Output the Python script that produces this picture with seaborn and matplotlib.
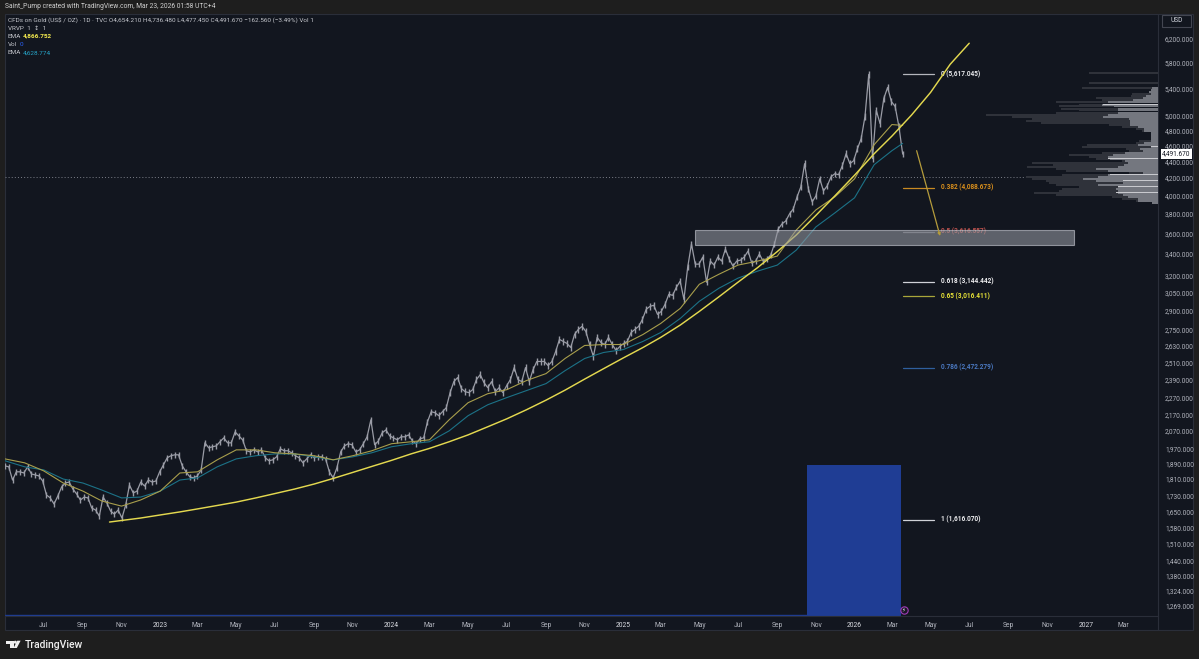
import pandas as pd
import matplotlib
matplotlib.use('Agg')
import matplotlib.pyplot as plt
import matplotlib.dates as mdates
from matplotlib.patches import Rectangle, Circle, Polygon
from matplotlib.ticker import NullLocator
import seaborn as sns

# ---values---
price = [1878, 1873, 1805, 1847, 1847, 1841, 1873, 1836, 1831, 1826, 1800, 1731, 1717, 1688, 1726, 1770,
    1790, 1795, 1760, 1736, 1707, 1721, 1717, 1669, 1660, 1632, 1721, 1693, 1655, 1641, 1660, 1623, 1683,
    1780, 1741, 1750, 1795, 1775, 1805, 1795, 1800, 1847, 1883, 1921, 1932, 1937, 1937, 1878, 1847, 1821,
    1816, 1826, 1857, 2003, 1975, 1981, 1986, 2009, 2031, 2003, 2003, 2065, 2042, 2020, 1959, 1953, 1964,
    1953, 1964, 1921, 1905, 1910, 1926, 1970, 1959, 1959, 1948, 1932, 1921, 1894, 1915, 1937, 1921, 1926,
    1926, 1915, 1847, 1816, 1868, 1953, 1986, 1998, 1992, 1953, 1964, 1998, 2037, 2136, 1992, 2014, 2060,
    2077, 2042, 2031, 2020, 2037, 2037, 2048, 2014, 1998, 2026, 2031, 2124, 2185, 2179, 2161, 2185, 2210,
    2305, 2377, 2404, 2331, 2311, 2305, 2324, 2391, 2424, 2370, 2337, 2377, 2311, 2337, 2305, 2350, 2391,
    2472, 2391, 2377, 2472, 2377, 2458, 2515, 2515, 2515, 2486, 2515, 2586, 2675, 2660, 2645, 2615, 2712,
    2751, 2774, 2735, 2637, 2550, 2690, 2652, 2637, 2690, 2637, 2593, 2622, 2645, 2660, 2727, 2751, 2774,
    2829, 2910, 2934, 2943, 2869, 2893, 2951, 3035, 3026, 3095, 3148, 2992, 3274, 3493, 3302, 3302, 3368,
    3139, 3330, 3293, 3368, 3330, 3444, 3349, 3284, 3330, 3339, 3368, 3425, 3311, 3330, 3396, 3330, 3349,
    3387, 3493, 3643, 3695, 3726, 3800, 3854, 3986, 4099, 4373, 4076, 3930, 3997, 4192, 4053, 4111, 4216,
    4252, 4240, 4349, 4497, 4373, 4410, 4561, 4691, 4990, 5614, 4435, 5075, 4893, 5249, 5413, 5204, 5132,
    4851, 4491.67]

# monthly readings of the two moving averages, May 2022 to Mar 2026, then the last bar
ema_fast = [1915, 1894, 1852, 1790, 1750, 1702, 1678, 1707, 1750, 1841, 1847, 1910, 1964, 1964, 1948, 1942,
    1932, 1910, 1932, 1959, 1998, 2009, 2020, 2136, 2241, 2298, 2324, 2384, 2431, 2536, 2630, 2637, 2637,
    2712, 2797, 2918, 3121, 3210, 3293, 3330, 3377, 3632, 3843, 3986, 4192, 4612, 4879, 4866.752]
ema_slow = [1905, 1873, 1857, 1810, 1790, 1755, 1717, 1721, 1750, 1805, 1816, 1873, 1915, 1932, 1942, 1942,
    1926, 1910, 1926, 1948, 1981, 1998, 2009, 2071, 2161, 2228, 2273, 2318, 2364, 2451, 2536, 2579, 2600,
    2660, 2727, 2837, 2976, 3087, 3175, 3238, 3293, 3434, 3664, 3811, 3975, 4361, 4535, 4628.774]

# hand drawn parabolic curve, Oct 13 2022 then monthly from Nov 2022 to Jul 2026
curve = [1605, 1612, 1623, 1637, 1651, 1665, 1681, 1697, 1717, 1738, 1760, 1785, 1813, 1844, 1875, 1907,
    1942, 1972, 2009, 2048, 2095, 2142, 2197, 2257, 2321, 2394, 2465, 2540, 2615, 2690, 2785, 2893, 3014,
    3139, 3270, 3420, 3582, 3784, 3997, 4234, 4497, 4724, 5011, 5338, 5775, 6125]

fib_levels = ['0', '0.382', '0.5', '0.618', '0.65', '0.786', '1']
fib_prices = [5617.045, 4088.673, 3616.557, 3144.442, 3016.411, 2472.279, 1616.070]
fib_colors = ['#b4b6bd', '#c98a22', '#6a6c74', '#d0d2d8', '#a9a63a', '#2f5f9e', '#d0d2d8']
fib_text = ['#e6e7ea', '#d98f1c', '#b8504c', '#eeeef0', '#e8e337', '#4a78c0', '#eeeef0']

# volume profile rows
vp_price = [5630, 5474, 5398, 5368, 5338, 5308, 5278, 5249, 5220, 5190, 5160, 5132, 5103, 5075, 5046, 5018,
    4990, 4962, 4934, 4907, 4879, 4851, 4824, 4797, 4770, 4744, 4717, 4691, 4665, 4638, 4612, 4587, 4561,
    4535, 4510, 4485, 4460, 4435, 4410, 4385, 4361, 4337, 4312, 4288, 4264, 4240, 4216, 4192, 4169, 4145,
    4122, 4099, 4076, 4053, 4031, 4008, 3986, 3963, 3941, 3919]
vp_total = [69, 69, 76, 7, 9, 26, 27, 62, 56, 102, 79, 99, 97, 79, 102, 172, 146, 126, 132, 117, 49, 36, 22,
    16, 7, 7, 7, 7, 19, 22, 71, 76, 32, 29, 56, 89, 69, 62, 36, 126, 105, 131, 102, 92, 29, 96, 132, 126,
    112, 109, 102, 79, 96, 99, 124, 102, 46, 36, 22, 6]
vp_light = [0, 0, 6, 7, 9, 7, 12, 15, 25, 50, 56, 44, 40, 40, 40, 50, 55, 29, 28, 28, 28, 20, 14, 14, 7, 7,
    7, 7, 7, 14, 20, 7, 18, 15, 33, 45, 50, 48, 33, 30, 34, 40, 62, 50, 15, 50, 60, 75, 62, 35, 60, 40, 42,
    40, 40, 35, 30, 20, 20, 6]
vp_bright_price = [5160, 4587, 4435, 4240, 4169, 4099, 4031]
vp_bright = [55, 7, 50, 48, 35, 40, 42]

y_ticks = [6200, 5800, 5400, 5000, 4800, 4600, 4400, 4200, 4000, 3800, 3600, 3400, 3200, 3050, 2900, 2750,
    2630, 2510, 2390, 2270, 2170, 2070, 1970, 1890, 1810, 1730, 1650, 1580, 1510, 1440, 1380, 1324, 1269]
x_ticks = ['2022-07-01', '2022-09-01', '2022-11-01', '2023-01-01', '2023-03-01', '2023-05-01', '2023-07-01',
    '2023-09-01', '2023-11-01', '2024-01-01', '2024-03-01', '2024-05-01', '2024-07-01', '2024-09-01',
    '2024-11-01', '2025-01-01', '2025-03-01', '2025-05-01', '2025-07-01', '2025-09-01', '2025-11-01',
    '2026-01-01', '2026-03-01', '2026-05-01', '2026-07-01', '2026-09-01', '2026-11-01', '2027-01-01',
    '2027-03-01']
x_labels = ['Jul', 'Sep', 'Nov', '2023', 'Mar', 'May', 'Jul', 'Sep', 'Nov', '2024', 'Mar', 'May', 'Jul', 'Sep',
    'Nov', '2025', 'Mar', 'May', 'Jul', 'Sep', 'Nov', '2026', 'Mar', 'May', 'Jul', 'Sep', 'Nov', '2027', 'Mar']

last_price = 4491.670
dotted_price = 4216
zone_dates = ['2025-04-24', '2026-12-14']
zone_prices = [3483, 3632]
arrow_dates = ['2026-04-09', '2026-05-16']
arrow_prices = [4535, 3572]
vol_dates = ['2025-10-18', '2026-03-16']
vol_top = 1883

# ---figure set up---
PANE = '#12161f'
OUTER = '#1e1e1e'
LINE = '#2a2e39'
sns.set_theme(style='dark', rc={'axes.facecolor': PANE, 'figure.facecolor': OUTER})
plt.rcParams['font.family'] = ['Roboto', 'DejaVu Sans']

fig = plt.figure(figsize=(11.99, 6.59), dpi=100)

# - chrome in pixel coordinates
bg = fig.add_axes([0, 0, 1, 1])
bg.set_xlim(0, 1199)
bg.set_ylim(659, 0)
bg.axis('off')
bg.add_patch(Rectangle((5, 14), 1188, 616, fc=PANE, ec=LINE, lw=0.8))
bg.plot([1158, 1158], [14, 630], color=LINE, lw=0.8)
bg.add_patch(Rectangle((1162, 15), 29, 12, fc=PANE, ec='#434651', lw=0.8))
bg.text(1176.5, 21, 'USD', color='#d1d4dc', fontsize=4.8, ha='center', va='center')
bg.text(5, 7, 'Saint_Pump created with TradingView.com, Mar 23, 2026 01:58 UTC+4', color='#d0d0d0',
    fontsize=4.9, va='center')
bg.text(8, 20, 'CFDs on Gold (US$ / OZ) · 1D · TVC O4,654.210 H4,736.480 L4,477.450 C4,491.670 −162.560 (−3.49%) Vol 1',
    color='#c4c6cc', fontsize=4.6, va='center')
bg.text(8, 28, 'VRVP  1  ↕  1', color='#c4c6cc', fontsize=4.6, va='center')
bg.text(8, 36, 'EMA', color='#c4c6cc', fontsize=4.6, va='center')
bg.text(23, 36, '4,866.752', color='#f2e94e', fontsize=4.6, va='center', fontweight='bold')
bg.text(8, 44, 'Vol', color='#c4c6cc', fontsize=4.6, va='center')
bg.text(20, 44, '0', color='#2962ff', fontsize=4.6, va='center')
bg.text(8, 53, 'EMA', color='#c4c6cc', fontsize=4.6, va='center')
bg.text(23, 53, '4,628.774', color='#26a5c9', fontsize=4.6, va='center')
# - logo
bg.add_patch(Rectangle((6, 640.7), 7.5, 2.8, fc='#f0f0f0', ec='none'))
bg.add_patch(Rectangle((9.6, 640.7), 3.9, 7.3, fc='#f0f0f0', ec='none'))
bg.add_patch(Circle((15.3, 642.2), 1.5, fc='#f0f0f0', ec='none'))
bg.add_patch(Polygon([(17.2, 640.7), (20.6, 640.7), (16.8, 648), (13.6, 648)], fc='#f0f0f0', ec='none'))
bg.text(25, 644.5, 'TradingView', color='#f0f0f0', fontsize=7.5, va='center', fontweight='medium')

# - main pane
ax = fig.add_axes([5 / 1199, 43 / 659, 1153 / 1199, 602 / 659])
ax.patch.set_alpha(0)
ax.set_yscale('log')
x_min = pd.Timestamp('2022-05-01')
x_max = pd.Timestamp('2027-04-25')
ax.set_xlim(x_min, x_max)
ax.set_ylim(1234, 6647)

# ---building tables---
df_price = pd.DataFrame({'date': pd.date_range('2022-05-01', '2026-03-18', periods=len(price)), 'price': price})
ema_dates = list(pd.date_range('2022-05-01', '2026-03-01', freq='MS')) + [pd.Timestamp('2026-03-18')]
df_ema = pd.DataFrame({'date': ema_dates, 'fast': ema_fast, 'slow': ema_slow})
curve_dates = [pd.Timestamp('2022-10-13')] + list(pd.date_range('2022-11-01', '2026-07-01', freq='MS'))
df_curve = pd.DataFrame({'date': curve_dates, 'curve': curve})

# ---volume block and dotted line---
v0, v1 = pd.to_datetime(vol_dates)
ax.fill_between([v0, v1], 1234, vol_top, color='#1f3d94', lw=0, zorder=1)
ax.plot([x_min, v0], [1236, 1236], color='#1f3d94', lw=1, zorder=1)
ax.axhline(dotted_price, color='#7d808a', ls=(0, (1, 2.2)), lw=0.7, zorder=2)

# ---series---
# - candle bodies are too thin to read one by one, so each sample gets a short range bar
ax.vlines(df_price['date'], df_price['price'] * 0.991, df_price['price'] * 1.009, color='#9a9ca6', lw=1.0, zorder=3)
sns.lineplot(data=df_price, x='date', y='price', color='#9a9ca6', lw=0.9, errorbar=None, estimator=None, ax=ax, zorder=3)
sns.lineplot(data=df_ema, x='date', y='slow', color='#1c7287', lw=0.8, errorbar=None, estimator=None, ax=ax, zorder=4)
sns.lineplot(data=df_ema, x='date', y='fast', color='#a89e4c', lw=0.8, errorbar=None, estimator=None, ax=ax, zorder=4)
sns.lineplot(data=df_curve, x='date', y='curve', color='#e3d84f', lw=1.05, errorbar=None, estimator=None, ax=ax, zorder=5)

# ---fib levels---
fib_start = pd.Timestamp('2026-03-18')
fib_end = pd.Timestamp('2026-05-06')
fib_label = pd.Timestamp('2026-05-17')
for lev, p, c, tc in zip(fib_levels, fib_prices, fib_colors, fib_text):
    ax.plot([fib_start, fib_end], [p, p], color=c, lw=0.9, zorder=3)
    ax.text(fib_label, p, f'{lev} ({p:,.3f})', color=tc, fontsize=4.7, fontweight='bold', va='center', zorder=3)

# ---zone box---
z0, z1 = mdates.date2num(pd.to_datetime(zone_dates))
ax.add_patch(Rectangle((z0, zone_prices[0]), z1 - z0, zone_prices[1] - zone_prices[0], fc='#9598a1', alpha=0.58,
    ec='#d1d4dc', lw=0.8, zorder=6))

# ---arrow---
a0, a1 = pd.to_datetime(arrow_dates)
ax.annotate('', xy=(a1, arrow_prices[1]), xytext=(a0, arrow_prices[0]), zorder=7,
    arrowprops=dict(arrowstyle='-|>', color='#b59c3c', lw=0.9, mutation_scale=4, shrinkA=0, shrinkB=0))

# ---alert icon---
ax.scatter([pd.Timestamp('2026-03-20')], [1255], s=28, fc='#1a1626', ec='#a23bb8', lw=0.8, zorder=8)
ax.text(pd.Timestamp('2026-03-20'), 1255, '⚡', color='#e6e0ea', fontsize=4, ha='center', va='center', zorder=9)

# ---axes---
ax.yaxis.tick_right()
ax.yaxis.set_minor_locator(NullLocator())
ax.set_yticks(y_ticks)
ax.set_yticklabels([f'{t:,.3f}' for t in y_ticks], fontsize=4.7, color='#b2b5be')
ax.set_xticks(pd.to_datetime(x_ticks))
ax.set_xticklabels(x_labels, fontsize=4.9, color='#b2b5be')
for lab in ax.get_xticklabels():
    if lab.get_text().isdigit():
        lab.set_color('#d8dae0')
ax.tick_params(axis='both', which='both', length=0)
ax.tick_params(axis='y', pad=5)
ax.tick_params(axis='x', pad=4)
ax.set_xlabel('')
ax.set_ylabel('')
ax.grid(False)
for s in ax.spines.values():
    s.set_visible(False)
ax.spines['bottom'].set_visible(True)
ax.spines['bottom'].set_color(LINE)
ax.spines['bottom'].set_linewidth(0.8)
ax.text(1.0035, last_price, f'{last_price:,.3f}', transform=ax.get_yaxis_transform(), color='#131722', fontsize=4.7,
    va='center', ha='left', bbox=dict(boxstyle='square,pad=0.2', fc='white', ec='none'), clip_on=False)

# ---volume profile, widths count in screen pixels back from the price scale---
ax_vp = ax.twiny()
ax_vp.set_xlim(1153, 0)
ax_vp.patch.set_alpha(0)
ax_vp.axis('off')
ax_vp.set_ylim(1234, 6647)
row_h = [p * 0.0056 for p in vp_price]
ax_vp.barh(vp_price, vp_total, height=row_h, color='#2f323a', lw=0, zorder=2)
ax_vp.barh(vp_price, vp_light, height=row_h, color='#74777f', lw=0, zorder=3)
ax_vp.barh(vp_bright_price, vp_bright, height=[p * 0.0026 for p in vp_bright_price], color='#c8c9ce', lw=0, zorder=4)

fig.savefig('out.png', dpi=100, facecolor=OUTER)
